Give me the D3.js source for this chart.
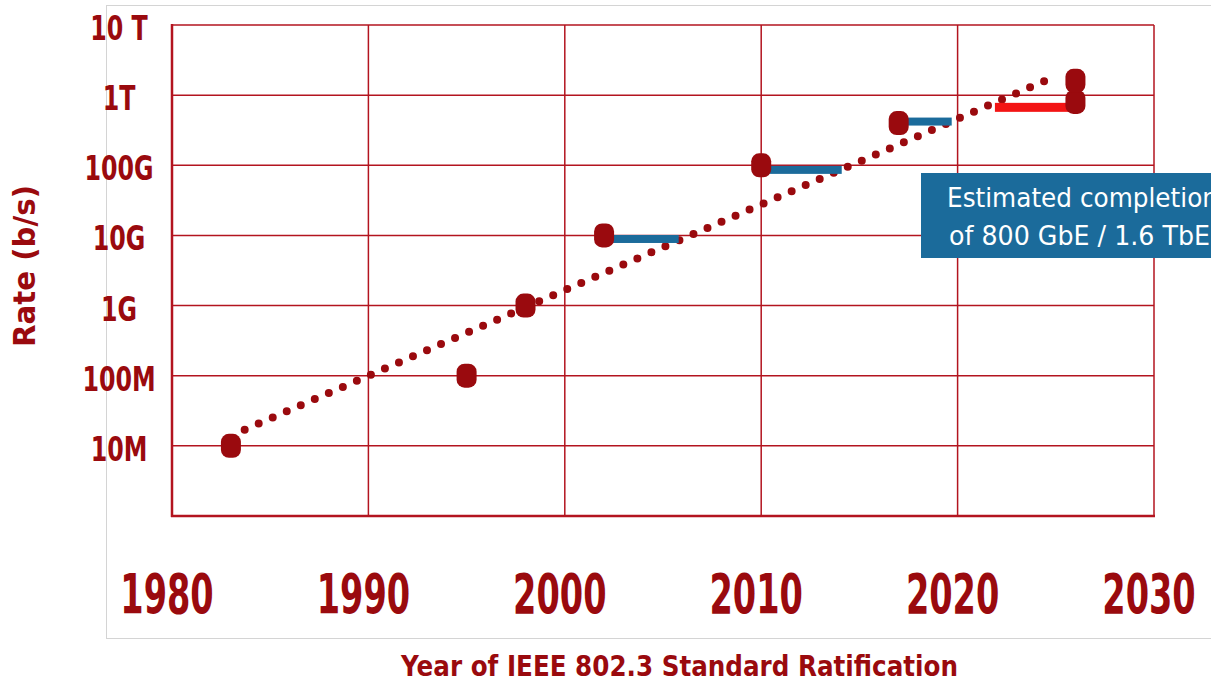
<!DOCTYPE html>
<html><head><meta charset="utf-8">
<script src="https://cdn.jsdelivr.net/npm/d3@7"></script>
<style>html,body{margin:0;padding:0;background:#fff;overflow:hidden}</style>
</head><body>
<svg id="chart" width="1211" height="683"></svg>
<script>
// ---- data ----
const yearTicks = [1980, 1990, 2000, 2010, 2020, 2030];
const rateTicks = [1e7, 1e8, 1e9, 1e10, 1e11, 1e12, 1e13];
const rateTickLabels = ["10M", "100M", "1G", "10G", "100G", "1T", "10 T"];
const pointYears = [1983, 1995, 1998, 2002, 2010, 2017, 2026, 2026];
const pointRates = [1e7, 1e8, 1e9, 1e10, 1e11, 4e11, 8e11, 1.6e12];
const barStartYears = [2002, 2010, 2017];
const barEndYears = [2005.8, 2014.1, 2019.7];
const barRates = [8.9e9, 8.6e10, 4.2e11];
const redBarStartYear = [2021.9];
const redBarEndYear = [2026];
const redBarRate = [6.7e11];
const trendYears = [1983.7, 2024.9];
const trendRates = [1.7e7, 1.82e12];
const xTitle = "Year of IEEE 802.3 Standard Ratification";
const yTitle = "Rate (b/s)";
const noteLines = ["Estimated completion", "of 800 GbE / 1.6 TbE"];

// ---- chart ----
const svg = d3.select("#chart");
const RED = "#9a0a0e", GRID = "#b3141f", BLUE = "#1b6b9b";
const x = d3.scaleLinear().domain([1980, 2030]).range([172, 1154]);
const y = d3.scaleLog().domain([1e6, 1e13]).range([516, 25]);

// outer light frame
svg.append("rect").attr("x", 106.5).attr("y", 5.5).attr("width", 1120).attr("height", 633)
  .attr("fill", "none").attr("stroke", "#d4d4d4").attr("stroke-width", 1);

// gridlines
svg.append("g").selectAll("line").data(rateTicks).join("line")
  .attr("x1", x(1980)).attr("x2", x(2030)).attr("y1", d => y(d)).attr("y2", d => y(d))
  .attr("stroke", GRID).attr("stroke-width", 1.5);
svg.append("g").selectAll("line").data(yearTicks.slice(1)).join("line")
  .attr("y1", y(1e13)).attr("y2", y(1e6)).attr("x1", d => x(d)).attr("x2", d => x(d))
  .attr("stroke", GRID).attr("stroke-width", 1.5);
// left and bottom borders
svg.append("line").attr("x1", x(1980)).attr("x2", x(1980)).attr("y1", y(1e13) - 1).attr("y2", y(1e6) + 1)
  .attr("stroke", GRID).attr("stroke-width", 2.5);
svg.append("line").attr("x1", x(1980) - 1).attr("x2", x(2030) + 1).attr("y1", y(1e6)).attr("y2", y(1e6))
  .attr("stroke", GRID).attr("stroke-width", 2.5);

// helper: condensed text
function squish(sel, factor, anchor) {
  sel.each(function () {
    const w = this.getComputedTextLength() * factor;
    this.setAttribute("textLength", w);
    this.setAttribute("lengthAdjust", "spacingAndGlyphs");
    const cx = +this.getAttribute("x");
    if (anchor === "middle") this.setAttribute("x", cx - w / 2);
  });
}

// y tick labels
const yl = svg.append("g").selectAll("text").data(rateTicks).join("text")
  .attr("x", 119).attr("y", d => y(d) + 15)
  .attr("font-family", "DejaVu Sans").attr("font-weight", "bold").attr("font-size", 33)
  .attr("fill", RED).text((d, i) => rateTickLabels[i]);
squish(yl, 0.72, "middle");

// x tick labels
const xl = svg.append("g").selectAll("text").data(yearTicks).join("text")
  .attr("x", d => x(d) - 5).attr("y", 613)
  .attr("font-family", "DejaVu Sans").attr("font-weight", "bold").attr("font-size", 55)
  .attr("fill", RED).text(d => d);
squish(xl, 0.61, "middle");

// axis titles
svg.append("text").attr("x", 401).attr("y", 676)
  .attr("font-family", "DejaVu Sans").attr("font-weight", "bold").attr("font-size", 28)
  .attr("fill", RED).text(xTitle)
  .attr("textLength", 557).attr("lengthAdjust", "spacingAndGlyphs");
svg.append("text").attr("transform", "translate(35,347) rotate(-90)")
  .attr("x", 0).attr("y", 0)
  .attr("font-family", "DejaVu Sans").attr("font-weight", "bold").attr("font-size", 30)
  .attr("fill", RED).text(yTitle)
  .attr("textLength", 162).attr("lengthAdjust", "spacingAndGlyphs");

// trend dotted line
const line = d3.line().x(d => x(d[0])).y(d => y(d[1]));
svg.append("path").datum(trendYears.map((t, i) => [t, trendRates[i]]))
  .attr("d", line).attr("fill", "none").attr("stroke", RED)
  .attr("stroke-width", 8).attr("stroke-linecap", "round").attr("stroke-dasharray", "0 15.3");

// blue bars
svg.append("g").selectAll("rect").data(barRates).join("rect")
  .attr("x", (d, i) => x(barStartYears[i])).attr("y", d => y(d) - 4)
  .attr("width", (d, i) => x(barEndYears[i]) - x(barStartYears[i])).attr("height", 8)
  .attr("fill", BLUE);
// red bar
svg.append("g").selectAll("rect").data(redBarRate).join("rect")
  .attr("x", (d, i) => x(redBarStartYear[i])).attr("y", d => y(d) - 4.5)
  .attr("width", (d, i) => x(redBarEndYear[i]) - x(redBarStartYear[i])).attr("height", 9)
  .attr("fill", "#f31414");

// points
svg.append("g").selectAll("rect").data(pointRates).join("rect")
  .attr("x", (d, i) => x(pointYears[i]) - 10).attr("y", d => y(d) - 12)
  .attr("width", 20).attr("height", 24).attr("rx", 8).attr("ry", 8)
  .attr("fill", RED);

// annotation box
svg.append("rect").attr("x", 921).attr("y", 173).attr("width", 300).attr("height", 85).attr("fill", BLUE);
svg.append("text").attr("x", 947).attr("y", 207)
  .attr("font-family", "DejaVu Sans").attr("font-size", 27).attr("fill", "#fff")
  .text(noteLines[0]).attr("textLength", 271).attr("lengthAdjust", "spacingAndGlyphs");
svg.append("text").attr("x", 949).attr("y", 245)
  .attr("font-family", "DejaVu Sans").attr("font-size", 27).attr("fill", "#fff")
  .text(noteLines[1]).attr("textLength", 261).attr("lengthAdjust", "spacingAndGlyphs");
</script>
</body></html>
